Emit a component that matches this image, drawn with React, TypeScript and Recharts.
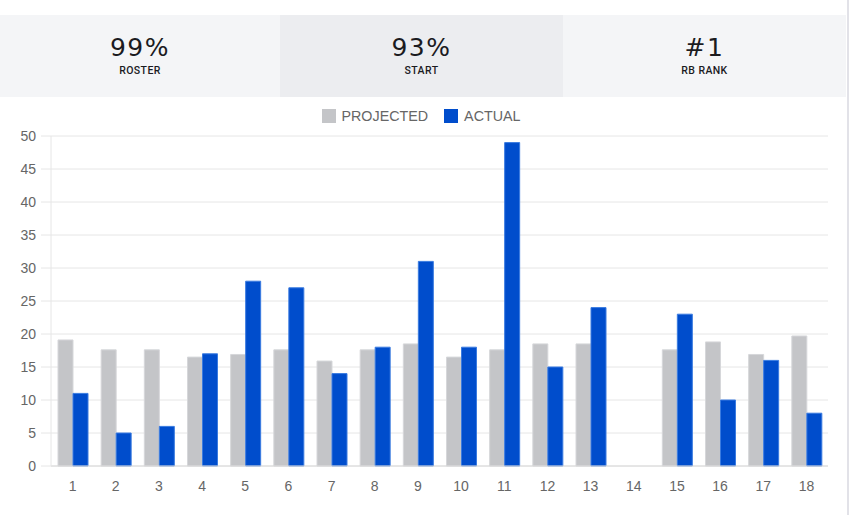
import React from "react";
import { BarChart, Bar, XAxis, YAxis, CartesianGrid } from "recharts";

const weeks = ["1","2","3","4","5","6","7","8","9","10","11","12","13","14","15","16","17","18"];
const projected = [19.1, 17.6, 17.6, 16.5, 16.9, 17.6, 15.9, 17.6, 18.5, 16.5, 17.6, 18.5, 18.5, null, 17.6, 18.8, 16.9, 19.7];
const actual = [11, 5, 6, 17, 28, 27, 14, 18, 31, 18, 49, 15, 24, null, 23, 10, 16, 8];
const yTicks = [0, 5, 10, 15, 20, 25, 30, 35, 40, 45, 50];

const stats = [
  { value: "99%", label: "ROSTER" },
  { value: "93%", label: "START" },
  { value: "#1", label: "RB RANK" },
];

const data = weeks.map((w, i) => ({ week: w, projected: projected[i], actual: actual[i] }));

const FONT = "'Liberation Sans', Arial, sans-serif";

export default function App() {
  const cellBounds = [
    [0, 280, "#f4f5f7"],
    [280, 563, "#ecedf0"],
    [563, 846, "#f4f5f7"],
  ] as const;
  return (
    <div style={{ position: "absolute", left: 0, top: 0, width: 850, height: 515, background: "#fff", overflow: "hidden" }}>
      {cellBounds.map(([x0, x1, bg], i) => (
        <div key={i} style={{ position: "absolute", left: x0, top: 15, width: x1 - x0, height: 82, background: bg }}>
          <div style={{ position: "absolute", left: 0, right: 0, top: 18, height: 30, lineHeight: "30px", textAlign: "center", fontFamily: "'DejaVu Sans', sans-serif", fontSize: 25, letterSpacing: 1.5, color: "#1b1b1f" }}>
            {stats[i].value}
          </div>
          <div style={{ position: "absolute", left: 0, right: 0, top: 50, height: 12, lineHeight: "12px", textAlign: "center", fontFamily: "Roboto, sans-serif", fontWeight: 500, fontSize: 10.5, letterSpacing: 0.4, color: "#1b1b1f" }}>
            {stats[i].label}
          </div>
        </div>
      ))}
      <div style={{ position: "absolute", left: 847, top: 0, width: 2, height: 515, background: "#e2e2e8" }} />
      <div style={{ position: "absolute", left: 0, width: 846, top: 108, height: 16, display: "flex", justifyContent: "center", alignItems: "center", fontFamily: FONT, fontSize: 14.3, color: "#666" }}>
        <div style={{ display: "flex", alignItems: "center", marginLeft: -4 }}>
          <span style={{ display: "inline-block", width: 14, height: 14, background: "#c4c5c8", marginRight: 6 }} />
          <span>PROJECTED</span>
          <span style={{ display: "inline-block", width: 14, height: 14, background: "#004dcc", marginLeft: 16, marginRight: 6 }} />
          <span>ACTUAL</span>
        </div>
      </div>
      <div style={{ position: "absolute", left: 0, top: 97 }}>
        <BarChart width={846} height={418} data={data} margin={{ top: 39, right: 18, bottom: 19, left: 0 }} barSize={15} barGap={0}>
          <CartesianGrid vertical={false} stroke="#e6e6e6" />
          <XAxis
            dataKey="week"
            height={30}
            tickLine={false}
            tickSize={0}
            tickMargin={15}
            axisLine={{ stroke: "#d8d8d8" }}
            tick={{ fill: "#666", fontSize: 14, fontFamily: FONT }}
            interval={0}
          />
          <YAxis
            width={51}
            domain={[0, 50]}
            ticks={yTicks}
            interval={0}
            tickSize={10}
            tickMargin={5}
            tickLine={{ stroke: "#e6e6e6" }}
            axisLine={{ stroke: "#e6e6e6" }}
            tick={{ fill: "#666", fontSize: 14, fontFamily: FONT }}
          />
          <Bar dataKey="projected" fill="#c4c5c8" stroke="#d6d7da" strokeWidth={1} isAnimationActive={false} />
          <Bar dataKey="actual" fill="#004dcc" stroke="#3a7be0" strokeWidth={1} isAnimationActive={false} />
        </BarChart>
      </div>
    </div>
  );
}
